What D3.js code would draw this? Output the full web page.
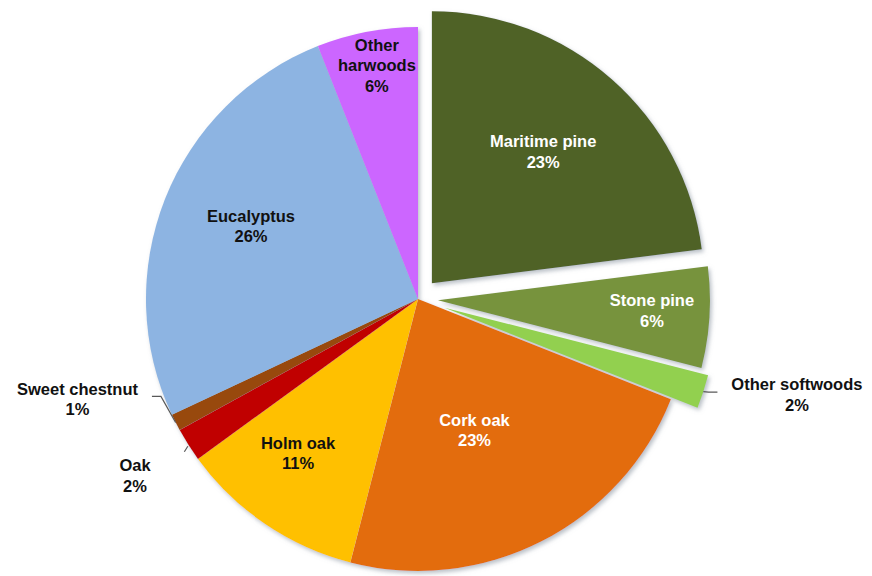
<!DOCTYPE html>
<html>
<head>
<meta charset="utf-8">
<script src="https://cdn.jsdelivr.net/npm/d3@7/dist/d3.min.js"></script>
<style>
  html, body { margin: 0; padding: 0; background: #ffffff; }
  svg { display: block; }
  text { font-family: "Liberation Sans", Arial, sans-serif; font-weight: bold; }
</style>
</head>
<body>
<svg id="chart" width="872" height="576"></svg>
<script>
// Forest species share (%)
const species = ["Maritime pine", "Stone pine", "Other softwoods", "Cork oak", "Holm oak",
                 "Oak", "Sweet chestnut", "Eucalyptus", "Other harwoods"];
const shares = [23, 6, 2, 23, 11, 2, 1, 26, 6];
const labelLines = [["Maritime pine"], ["Stone pine"], ["Other softwoods"], ["Cork oak"], ["Holm oak"],
                    ["Oak"], ["Sweet chestnut"], ["Eucalyptus"], ["Other", "harwoods"]];

// Styling / layout
const colors = ["#4f6228", "#77933c", "#92d050", "#e36c09", "#ffc000",
                "#c00000", "#984807", "#8db4e2", "#cc66ff"];
const textColors = ["#ffffff", "#ffffff", "#111111", "#ffffff", "#111111",
                    "#111111", "#111111", "#111111", "#111111"];
const explode = [21, 20, 28, 0, 0, 0, 0, 0, 0];
const labelRadius = [0.71, 0.861, 1.437, 0.525, 0.718, 1.227, 1.305, 0.67, 0.871];
const labelNudgeDeg = [-1, -0.7, -3.8, 3.7, 3.7, 0.4, 10.6, 2, 0.8];

const cx = 418, cy = 299, R = 272;
const fontSize = 16.5, lineH = 20.5;

const svg = d3.select("#chart");
const defs = svg.append("defs");
const shadow = defs.append("filter").attr("id", "shadow")
  .attr("x", "-10%").attr("y", "-10%").attr("width", "120%").attr("height", "120%");
shadow.append("feDropShadow")
  .attr("dx", 2).attr("dy", 2.5).attr("stdDeviation", 2)
  .attr("flood-color", "#7f8a99").attr("flood-opacity", 0.55);

const data = species.map((s, i) => ({ name: s, value: shares[i], i }));
const pie = d3.pie().value(d => d.value).sort(null);
const arcs = pie(data);
const arc = d3.arc().innerRadius(0).outerRadius(R);

const polar = (ang, r) => [Math.sin(ang) * r, -Math.cos(ang) * r];

const g = svg.append("g").attr("transform", `translate(${cx},${cy})`);
const slices = g.append("g").attr("filter", "url(#shadow)");

slices.selectAll("path")
  .data(arcs)
  .join("path")
  .attr("d", arc)
  .attr("fill", d => colors[d.data.i])
  .attr("transform", d => {
    const mid = (d.startAngle + d.endAngle) / 2;
    const [dx, dy] = polar(mid, explode[d.data.i]);
    return `translate(${dx},${dy})`;
  });

// Leader lines for the labels placed outside the pie
const leaders = g.append("g").attr("fill", "none").attr("stroke", "#595959").attr("stroke-width", 1.2);
arcs.forEach(d => {
  const i = d.data.i;
  if (labelRadius[i] <= 1) return;
  const mid = (d.startAngle + d.endAngle) / 2;
  const [ox, oy] = polar(mid, explode[i]);
  const [sx, sy] = polar(mid, R);
  const start = [sx + ox, sy + oy];
  const la = mid + labelNudgeDeg[i] * Math.PI / 180;
  const [lx, ly] = polar(la, labelRadius[i] * R);
  const lines = labelLines[i].length + 1;
  const topY = ly - (lines - 1) * lineH / 2 - 6;
  let pts;
  if (species[i] === "Oak") {
    // short tick pointing from the slice toward its label
    const e = [start[0] - 4, start[1] + 7];
    pts = [[start[0] - 0.5, start[1] + 1.5], e];
  } else {
    const w = labelLines[i][0].length * fontSize * 0.305;
    const side = lx > 0 ? -1 : 1;
    const endX = lx + side * (w + 4);
    const endY = topY + 13.5;
    const elbowX = endX + side * 9;
    pts = [start, [elbowX, endY], [endX, endY]];
  }
  leaders.append("path").attr("d", d3.line()(pts));
});

// Category and percentage labels
const labels = g.append("g").attr("text-anchor", "middle").attr("font-size", fontSize);
arcs.forEach(d => {
  const i = d.data.i;
  const mid = (d.startAngle + d.endAngle) / 2;
  const la = mid + labelNudgeDeg[i] * Math.PI / 180;
  const [lx, ly] = polar(la, labelRadius[i] * R);
  const lines = labelLines[i].concat([d3.format(".0f")(shares[i]) + "%"]);
  const firstBase = ly - (lines.length - 1) * lineH / 2 + fontSize * 0.35;
  const t = labels.append("text").attr("fill", textColors[i]);
  lines.forEach((ln, k) => {
    t.append("tspan").attr("x", lx).attr("y", firstBase + k * lineH).text(ln);
  });
});
</script>
</body>
</html>
